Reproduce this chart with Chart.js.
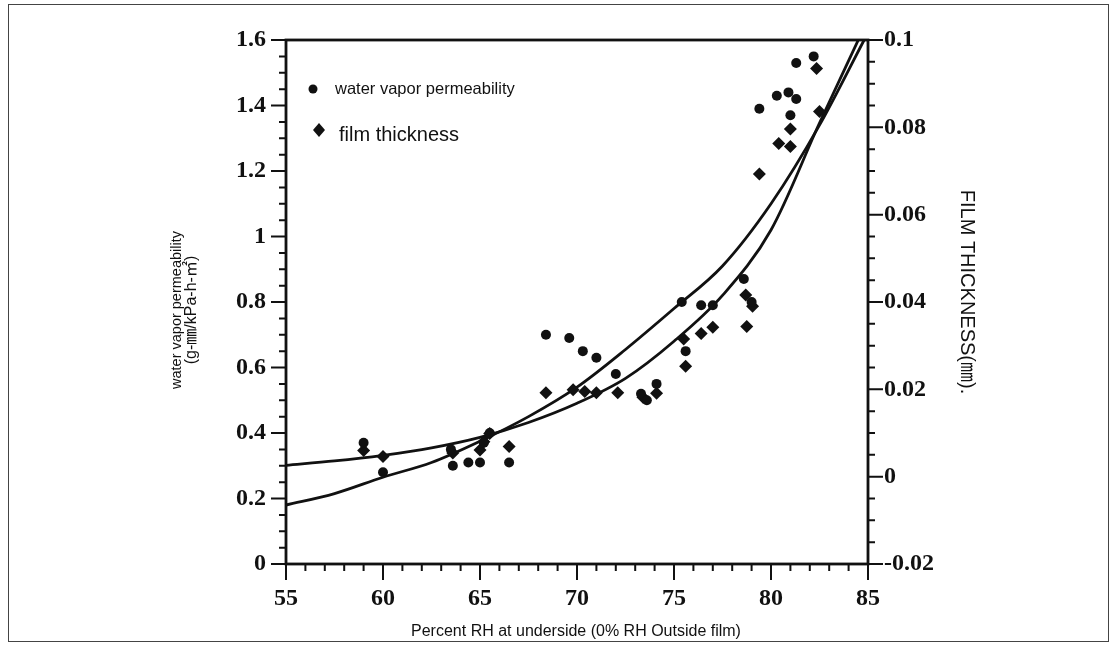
<!DOCTYPE html>
<html>
<head>
<meta charset="utf-8">
<script src="https://cdn.jsdelivr.net/npm/chart.js@4.4.0/dist/chart.umd.min.js"></script>
<style>
  body { margin: 0; background: #fff; }
  #wrap { width: 1118px; height: 650px; }
</style>
</head>
<body>
<div id="wrap"><canvas id="chart" width="1118" height="650"></canvas></div>
<script>
// water vapor permeability (left axis)
const permRH = [59.0, 60.0, 63.5, 63.6, 64.4, 65.0, 65.2, 65.5, 66.5, 68.4, 69.6, 70.3, 71.0, 72.0, 73.3, 73.6, 74.1,
    75.4, 75.6, 76.4, 77.0, 78.6, 79.0, 79.4, 80.3, 80.9, 81.0, 81.3, 81.3, 82.2];
const permValues = [0.37, 0.28, 0.35, 0.30, 0.31, 0.31, 0.37, 0.40, 0.31, 0.70, 0.69, 0.65, 0.63, 0.58, 0.52, 0.50, 0.55,
    0.80, 0.65, 0.79, 0.79, 0.87, 0.80, 1.39, 1.43, 1.44, 1.37, 1.42, 1.53, 1.55];

// film thickness (right axis)
const filmRH = [59.0, 60.0, 63.6, 65.0, 65.2, 65.5, 66.5, 68.4, 69.8, 70.4, 71.0, 72.1, 73.4, 74.1, 75.5, 75.6, 76.4,
    77.0, 78.7, 78.75, 79.05, 79.4, 80.4, 81.0, 81.0, 82.35, 82.5];
const filmValues = [0.0060, 0.0046, 0.0054, 0.0061, 0.0080, 0.0099, 0.0069, 0.0192, 0.0199, 0.0195, 0.0192, 0.0192, 0.0182,
    0.0191, 0.0315, 0.0253, 0.0328, 0.0342, 0.0416, 0.0344, 0.0390, 0.0693, 0.0763, 0.0796, 0.0756, 0.0935, 0.0836];

// fitted curves
const permFitRH = [55, 57.5, 60, 62.5, 65, 67.5, 70, 72.5, 75, 77.5, 80, 82.5, 84.8];
const permFitValues = [0.18, 0.215, 0.265, 0.31, 0.375, 0.45, 0.54, 0.655, 0.78, 0.91, 1.10, 1.34, 1.6];
const filmFitRH = [55, 57.5, 60, 62.5, 65, 67.5, 70, 72.5, 75, 77.5, 80, 82.5, 84.5];
const filmFitValues = [0.0026, 0.0036, 0.0049, 0.0066, 0.0090, 0.0124, 0.0168, 0.0225, 0.031, 0.0415, 0.0565, 0.081, 0.1];

const xTicks = [55, 60, 65, 70, 75, 80, 85];
const leftTicks = [0, 0.2, 0.4, 0.6, 0.8, 1, 1.2, 1.4, 1.6];
const rightTicks = [-0.02, 0, 0.02, 0.04, 0.06, 0.08, 0.1];

const legendLabels = ['water vapor permeability', 'film thickness'];
const xTitle = 'Percent RH at underside (0% RH Outside film)';
const leftTitle = ['water vapor permeability', '(g-㎜/kPa-h-㎡)'];
const rightTitle = 'FILM THICKNESS(㎜).';

const ink = '#111';
const narrow = '"Liberation Sans Narrow", "Liberation Sans", "Noto Sans CJK JP", sans-serif';
const tickFont = { family: '"Liberation Serif", "DejaVu Serif", serif', weight: 'bold', size: 24 };

function pairs(xs, ys) {
    return xs.map((x, i) => ({ x: x, y: ys[i] }));
}

function minorValues(min, max, step) {
    const out = [];
    const n = Math.round((max - min) / step);
    for (let i = 0; i <= n; i++) out.push(min + i * step);
    return out;
}

const frame = {
    id: 'frame',
    afterDraw(chart) {
        const ctx = chart.ctx;
        const a = chart.chartArea;
        const sx = chart.scales.x, sl = chart.scales.y, sr = chart.scales.y2;
        ctx.save();
        ctx.strokeStyle = ink;
        ctx.lineCap = 'butt';

        // ticks
        ctx.lineWidth = 2;
        ctx.beginPath();
        minorValues(55, 85, 1).forEach(v => {
            const p = sx.getPixelForValue(v);
            ctx.moveTo(p, a.bottom);
            ctx.lineTo(p, a.bottom + (xTicks.includes(Math.round(v)) ? 16 : 7));
        });
        minorValues(0, 1.6, 0.05).forEach((v, i) => {
            const p = sl.getPixelForValue(v);
            ctx.moveTo(a.left, p);
            ctx.lineTo(a.left - (i % 4 === 0 ? 15 : 7), p);
        });
        minorValues(-0.02, 0.1, 0.005).forEach((v, i) => {
            const p = sr.getPixelForValue(v);
            ctx.moveTo(a.right, p);
            ctx.lineTo(a.right + (i % 4 === 0 ? 15 : 7), p);
        });
        ctx.stroke();

        // box
        ctx.lineWidth = 2.8;
        ctx.strokeRect(a.left, a.top, a.right - a.left, a.bottom - a.top);

        // outer border of the figure
        ctx.lineWidth = 1;
        ctx.strokeStyle = '#444';
        ctx.strokeRect(8.5, 4.5, 1100, 637);

        // axis titles
        ctx.fillStyle = ink;
        ctx.textAlign = 'center';
        ctx.textBaseline = 'middle';
        ctx.font = '16px ' + narrow;
        ctx.fillText(xTitle, 576, 632);

        ctx.save();
        ctx.translate(177, 310);
        ctx.rotate(-Math.PI / 2);
        ctx.font = '14.5px ' + narrow;
        ctx.fillText(leftTitle[0], 0, 0);
        ctx.font = '16px ' + narrow;
        ctx.fillText(leftTitle[1], 0, 15);
        ctx.restore();

        ctx.save();
        ctx.translate(967, 292);
        ctx.rotate(Math.PI / 2);
        ctx.font = '20px ' + narrow;
        ctx.fillText(rightTitle, 0, 0);
        ctx.restore();

        // legend
        ctx.textAlign = 'left';
        ctx.beginPath();
        ctx.arc(313, 89, 4.5, 0, Math.PI * 2);
        ctx.fill();
        ctx.font = '16.5px ' + narrow;
        ctx.fillText(legendLabels[0], 335, 89);

        ctx.beginPath();
        ctx.moveTo(319, 123);
        ctx.lineTo(325, 130);
        ctx.lineTo(319, 137);
        ctx.lineTo(313, 130);
        ctx.closePath();
        ctx.fill();
        ctx.font = '20px "Liberation Sans", sans-serif';
        ctx.fillText(legendLabels[1], 339, 135);
        ctx.restore();
    }
};

new Chart(document.getElementById('chart'), {
    type: 'scatter',
    data: {
        datasets: [
            {
                label: legendLabels[0],
                data: pairs(permRH, permValues),
                yAxisID: 'y',
                pointStyle: 'circle',
                pointRadius: 5,
                backgroundColor: ink,
                borderWidth: 0
            },
            {
                label: legendLabels[1],
                data: pairs(filmRH, filmValues),
                yAxisID: 'y2',
                pointStyle: 'rectRot',
                pointRadius: 6.5,
                backgroundColor: ink,
                borderWidth: 0
            },
            {
                type: 'line',
                label: 'permeability fit',
                data: pairs(permFitRH, permFitValues),
                yAxisID: 'y',
                borderColor: ink,
                borderWidth: 2.8,
                pointRadius: 0,
                cubicInterpolationMode: 'monotone',
                fill: false
            },
            {
                type: 'line',
                label: 'thickness fit',
                data: pairs(filmFitRH, filmFitValues),
                yAxisID: 'y2',
                borderColor: ink,
                borderWidth: 2.8,
                pointRadius: 0,
                cubicInterpolationMode: 'monotone',
                fill: false
            }
        ]
    },
    options: {
        responsive: false,
        animation: false,
        layout: { padding: { top: 40, left: 0, right: 0, bottom: 0 } },
        plugins: {
            legend: { display: false },
            tooltip: { enabled: false }
        },
        scales: {
            x: {
                type: 'linear',
                position: 'bottom',
                min: 55,
                max: 85,
                afterBuildTicks: s => { s.ticks = xTicks.map(v => ({ value: v })); },
                afterFit: s => { s.height = 86; },
                ticks: { font: tickFont, color: ink, padding: 20, maxRotation: 0, callback: v => String(v) },
                grid: { display: false, drawTicks: false },
                border: { display: false }
            },
            y: {
                position: 'left',
                min: 0,
                max: 1.6,
                afterBuildTicks: s => { s.ticks = leftTicks.map(v => ({ value: v })); },
                afterFit: s => { s.width = 286; },
                ticks: { font: tickFont, color: ink, padding: 20, callback: v => String(v) },
                grid: { display: false, drawTicks: false },
                border: { display: false }
            },
            y2: {
                position: 'right',
                min: -0.02,
                max: 0.1,
                afterBuildTicks: s => { s.ticks = rightTicks.map(v => ({ value: v })); },
                afterFit: s => { s.width = 250; },
                ticks: { font: tickFont, color: ink, padding: 16, callback: v => String(v) },
                grid: { display: false, drawTicks: false },
                border: { display: false }
            }
        }
    },
    plugins: [frame]
});
</script>
</body>
</html>
